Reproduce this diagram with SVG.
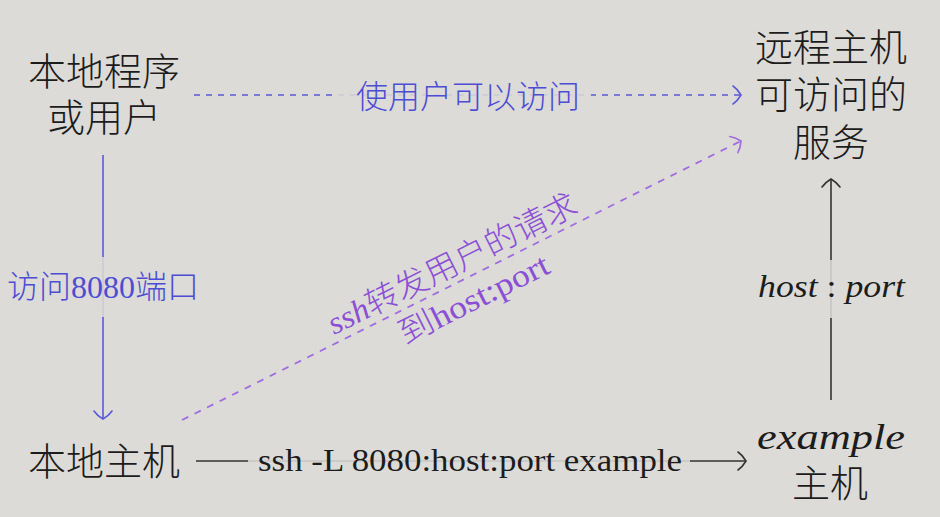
<svg xmlns="http://www.w3.org/2000/svg" width="940" height="517" viewBox="0 0 940 517">
<style>
.cjk{font-family:"Liberation Serif","Noto Sans CJK SC",serif;font-weight:300;fill:#1c1c1c}
.big{font-size:38px}
.blue{fill:#4d4dd4}
.purple{fill:#8b4fd6}
.it{font-family:"Liberation Serif",serif;font-style:italic;fill:#1c1c1c}
.lbl{font-size:32px}
.bg{fill:#dcdbd7;fill-opacity:0.88}
</style>
<defs>
<marker id="ab" viewBox="-10 -11 12 22" refX="0" refY="0" markerWidth="12" markerHeight="22" markerUnits="userSpaceOnUse" orient="auto">
<path d="M -8,-9 C -5,-7 -1.5,-2.5 0,0 C -1.5,2.5 -5,7 -8,9" fill="none" stroke="#5a5ad8" stroke-width="1.6" stroke-linecap="round"/>
</marker>
<marker id="ap" viewBox="-10 -11 12 22" refX="0" refY="0" markerWidth="12" markerHeight="22" markerUnits="userSpaceOnUse" orient="auto">
<path d="M -8,-9 C -5,-7 -1.5,-2.5 0,0 C -1.5,2.5 -5,7 -8,9" fill="none" stroke="#a06de0" stroke-width="1.7" stroke-linecap="round"/>
</marker>
<marker id="ak" viewBox="-10 -11 12 22" refX="0" refY="0" markerWidth="12" markerHeight="22" markerUnits="userSpaceOnUse" orient="auto">
<path d="M -8,-9 C -5,-7 -1.5,-2.5 0,0 C -1.5,2.5 -5,7 -8,9" fill="none" stroke="#333" stroke-width="1.6" stroke-linecap="round"/>
</marker>
</defs>
<rect width="940" height="517" fill="#dcdbd7"/>

<g id="connectors">
  <g id="e-top">
    <line x1="194" y1="95" x2="741" y2="95" stroke="#5a5ad8" stroke-width="1.6" stroke-dasharray="6 6" marker-end="url(#ab)"/>
    <rect class="bg" x="334" y="78" width="257" height="36"/>
    <text class="cjk blue lbl" x="468" y="108" text-anchor="middle">使用户可以访问</text>
  </g>
  <g id="e-left">
    <line x1="103" y1="155" x2="103" y2="419" stroke="#5a5ad8" stroke-width="1.6" marker-end="url(#ab)"/>
    <rect class="bg" x="4" y="257" width="198" height="60"/>
    <text class="cjk blue lbl" x="103" y="298" text-anchor="middle">访问<tspan font-family="Liberation Serif" font-weight="400">8080</tspan>端口</text>
  </g>
  <g id="e-diag">
    <line x1="182" y1="420" x2="741" y2="141" stroke="#a06de0" stroke-width="1.8" stroke-dasharray="7 7" marker-end="url(#ap)"/>
    <g transform="translate(462,280) rotate(-26.57)">
      <text class="cjk purple" font-size="32" x="-139" y="-8" textLength="275" lengthAdjust="spacingAndGlyphs"><tspan font-style="italic" font-family="Liberation Serif" font-weight="400">ssh</tspan>转发用户的请求</text>
      <text class="cjk purple" font-size="32" x="-80" y="33" textLength="164" lengthAdjust="spacingAndGlyphs">到<tspan font-family="Liberation Serif" font-weight="400">host:port</tspan></text>
    </g>
  </g>
  <g id="e-right">
    <line x1="831" y1="400" x2="831" y2="179" stroke="#333" stroke-width="1.6" marker-end="url(#ak)"/>
    <rect class="bg" x="752" y="260" width="158" height="58"/>
    <text class="it" font-size="32" x="758" y="297" textLength="147" lengthAdjust="spacingAndGlyphs">host<tspan font-style="normal"> : </tspan>port</text>
  </g>
  <g id="e-bottom">
    <line x1="196" y1="461" x2="746" y2="461" stroke="#333" stroke-width="1.6" marker-end="url(#ak)"/>
    <rect class="bg" x="248" y="442" width="442" height="38"/>
    <text font-family="Liberation Serif" font-size="32" fill="#1c1c1c" x="258" y="471" textLength="424" lengthAdjust="spacingAndGlyphs">ssh -L 8080:host:port example</text>
  </g>
</g>

<g id="n-local-prog">
  <text class="cjk big" x="104" y="85" text-anchor="middle">本地程序</text>
  <text class="cjk big" x="104" y="131" text-anchor="middle">或用户</text>
</g>
<g id="n-remote">
  <text class="cjk big" x="831" y="61" text-anchor="middle">远程主机</text>
  <text class="cjk big" x="831" y="108" text-anchor="middle">可访问的</text>
  <text class="cjk big" x="831" y="156" text-anchor="middle">服务</text>
</g>
<g id="n-local-host">
  <text class="cjk big" x="104" y="475" text-anchor="middle">本地主机</text>
</g>
<g id="n-example">
  <text class="it" font-size="36" x="757" y="449" textLength="148" lengthAdjust="spacingAndGlyphs">example</text>
  <text class="cjk big" x="830" y="497" text-anchor="middle">主机</text>
</g>
</svg>
